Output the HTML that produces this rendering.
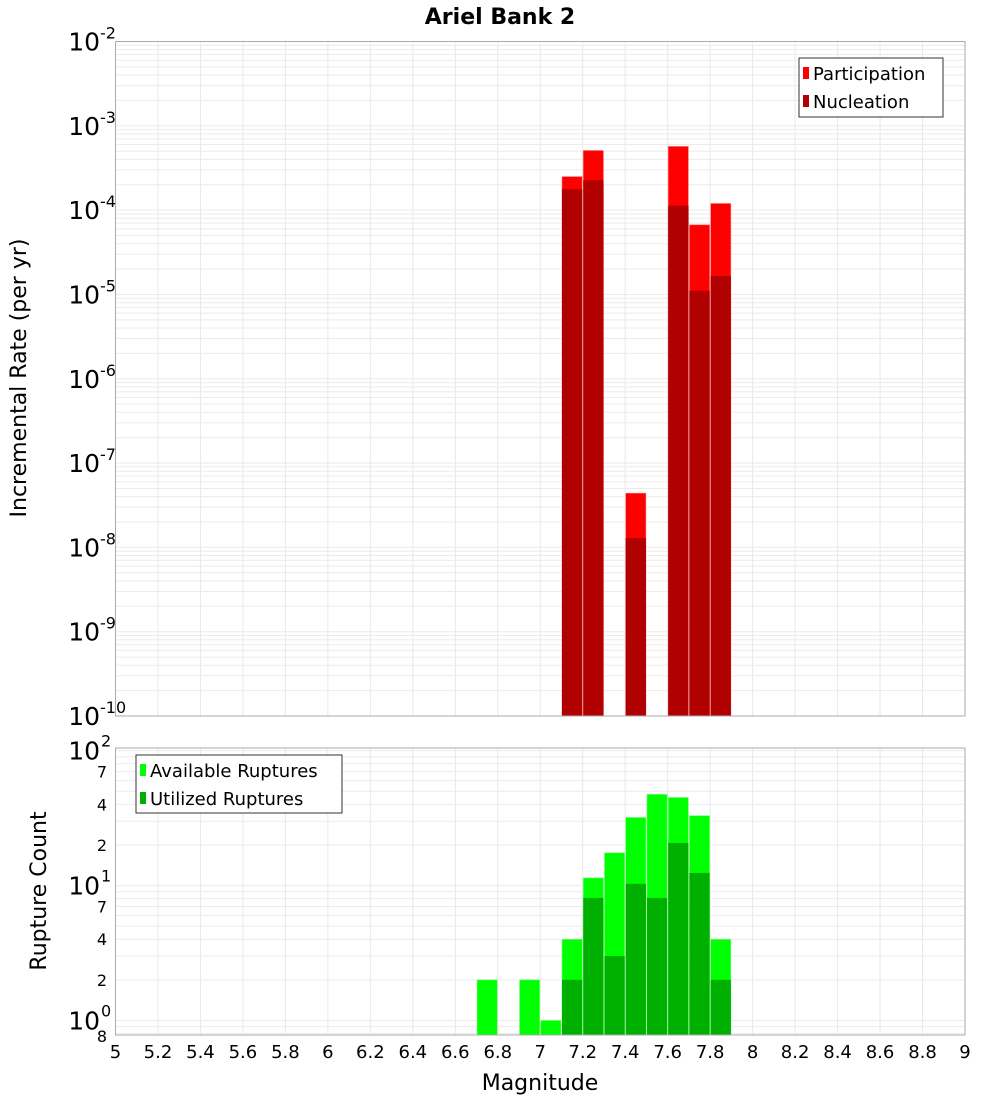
<!DOCTYPE html>
<html><head><meta charset="utf-8"><style>
html,body{margin:0;padding:0;background:#fff;}
svg{display:block;font-family:"Liberation Sans","DejaVu Sans",sans-serif;}
</style></head><body>
<svg id="chart" width="1000" height="1100" viewBox="0 0 1000 1100" xmlns="http://www.w3.org/2000/svg">
<text x="500" y="24" text-anchor="middle" font-size="22" font-weight="bold" font-family="DejaVu Sans, sans-serif">Ariel Bank 2</text>
<text transform="translate(26,378) rotate(-90)" text-anchor="middle" font-size="22" font-family="DejaVu Sans, sans-serif">Incremental Rate (per yr)</text>
<text transform="translate(46,891) rotate(-90)" text-anchor="middle" font-size="22" font-family="DejaVu Sans, sans-serif">Rupture Count</text>
<text x="540" y="1090" text-anchor="middle" font-size="22" font-family="DejaVu Sans, sans-serif">Magnitude</text>
<g id="grid"></g><g id="bars"></g><g id="axes"></g>
<g>
<rect x="799" y="58" width="144" height="59" fill="#fff" stroke="#333" stroke-width="1"/>
<rect x="803" y="67" width="6" height="12" fill="#ff0000"/>
<text x="813" y="80" font-size="18" font-family="DejaVu Sans, sans-serif">Participation</text>
<rect x="803" y="95" width="6" height="12" fill="#b00000"/>
<text x="813" y="108" font-size="18" font-family="DejaVu Sans, sans-serif">Nucleation</text>
</g>
<g>
<rect x="136" y="755" width="206" height="58" fill="#fff" stroke="#333" stroke-width="1"/>
<rect x="140" y="764" width="6" height="12" fill="#00ff00"/>
<text x="150" y="777" font-size="18" font-family="DejaVu Sans, sans-serif">Available Ruptures</text>
<rect x="140" y="792" width="6" height="12" fill="#00b000"/>
<text x="150" y="805" font-size="18" font-family="DejaVu Sans, sans-serif">Utilized Ruptures</text>
</g>
</svg>
<script>
const topMags = [7.15, 7.25, 7.45, 7.65, 7.75, 7.85];
const participation = [2.5e-4, 5.1e-4, 4.4e-8, 5.7e-4, 6.7e-5, 1.2e-4];
const nucleation = [1.77e-4, 2.26e-4, 1.29e-8, 1.13e-4, 1.11e-5, 1.66e-5];
const botMags = [6.75, 6.95, 7.05, 7.15, 7.25, 7.35, 7.45, 7.55, 7.65, 7.75, 7.85];
const available = [2, 2, 1, 4, 11.4, 17.5, 32, 47.5, 45, 33, 4];
const utilized = [0, 0, 0, 2, 8.1, 3, 10.3, 8.1, 20.7, 12.4, 2];
const xTicks = [5,5.2,5.4,5.6,5.8,6,6.2,6.4,6.6,6.8,7,7.2,7.4,7.6,7.8,8,8.2,8.4,8.6,8.8,9];
const topExps = [-10,-9,-8,-7,-6,-5,-4,-3,-2];
const botMinorLabels = [2,4,7];

const NS="http://www.w3.org/2000/svg";
const X0=115.5,X1=965,T0=41.5,T1=716,B0=748,B1=1035;
const BMIN=0.78,BMAX=104.7;
const xs=m=>X0+(m-5)/4*(X1-X0);
const yt=v=>T1-(Math.log10(v)+10)/8*(T1-T0);
const yb=v=>B1-(Math.log10(v)-Math.log10(BMIN))/(Math.log10(BMAX)-Math.log10(BMIN))*(B1-B0);
function mk(parent,tag,attrs){const e=document.createElementNS(NS,tag);for(const k in attrs)e.setAttribute(k,attrs[k]);document.getElementById(parent).appendChild(e);return e;}

// grid
for(const t of xTicks){const x=xs(t);
 let g=mk('grid','line',{x1:x,x2:x,y1:T0,y2:T1,stroke:'#e8e8e8'});
 g=mk('grid','line',{x1:x,x2:x,y1:B0,y2:B1,stroke:'#e8e8e8'});}
for(let e=-10;e<-2;e++)for(let k=1;k<10;k++){const y=yt(k*Math.pow(10,e));
 const g=mk('grid','line',{x1:X0,x2:X1,y1:y,y2:y,stroke:'#ebebeb'});}
for(let e=-1;e<3;e++)for(let k=1;k<10;k++){const v=k*Math.pow(10,e);if(v<BMIN||v>BMAX)continue;const y=yb(v);
 const g=mk('grid','line',{x1:X0,x2:X1,y1:y,y2:y,stroke:'#ebebeb'});}

// bars
const bw=(X1-X0)/40;
topMags.forEach((m,i)=>{const x=xs(m)-bw/2+0.5,w=bw-1;
 let r=mk('bars','rect',{x:x,y:yt(participation[i]),width:w,height:T1-yt(participation[i]),fill:'#ff0000',stroke:'#ff8080','stroke-width':0.6});
 
 r=mk('bars','rect',{x:x,y:yt(nucleation[i]),width:w,height:T1-yt(nucleation[i]),fill:'#b00000'});
 });
botMags.forEach((m,i)=>{const x=xs(m)-bw/2+0.5,w=bw-1;
 let r=mk('bars','rect',{x:x,y:yb(available[i]),width:w,height:B1-yb(available[i]),fill:'#00ff00',stroke:'#80ff80','stroke-width':0.6});
 
 if(utilized[i]>0){r=mk('bars','rect',{x:x,y:yb(utilized[i]),width:w,height:B1-yb(utilized[i]),fill:'#00b000'});
 }});

// frames
let f=mk('axes','rect',{x:X0,y:T0,width:X1-X0,height:T1-T0,fill:'none',stroke:'#aaa'});
f=mk('axes','rect',{x:X0,y:B0,width:X1-X0,height:B1-B0,fill:'none',stroke:'#aaa'});

// x tick labels
for(const t of xTicks){const tx=mk('axes','text',{x:xs(t),y:1058,'text-anchor':'middle','font-size':18,'font-family':'DejaVu Sans, sans-serif'});
 tx.textContent=String(t);}
// top y labels
for(const e of topExps){const y=yt(Math.pow(10,e));
 const t=mk('axes','text',{x:100,y:y+9,'text-anchor':'end','font-size':25,'font-family':'DejaVu Sans, sans-serif'});t.textContent='10';
 
 const s=mk('axes','text',{x:100,y:y-3,'font-size':16,'font-family':'DejaVu Sans, sans-serif'});s.textContent=String(e);
 }
// bottom y labels
for(const e of [0,1,2]){const y=yb(Math.pow(10,e));
 const t=mk('axes','text',{x:100,y:y+9,'text-anchor':'end','font-size':25,'font-family':'DejaVu Sans, sans-serif'});t.textContent='10';
 
 const s=mk('axes','text',{x:101,y:y-4,'font-size':16,'font-family':'DejaVu Sans, sans-serif'});s.textContent=String(e);
 
 if(e<2)for(const k of botMinorLabels){const yy=yb(k*Math.pow(10,e));
  const m=mk('axes','text',{x:107,y:yy+6,'text-anchor':'end','font-size':16,'font-family':'DejaVu Sans, sans-serif'});m.textContent=String(k);
  }}
const m8=mk('axes','text',{x:107,y:1042,'text-anchor':'end','font-size':16,'font-family':'DejaVu Sans, sans-serif'});m8.textContent='8';

</script>
</body></html>
